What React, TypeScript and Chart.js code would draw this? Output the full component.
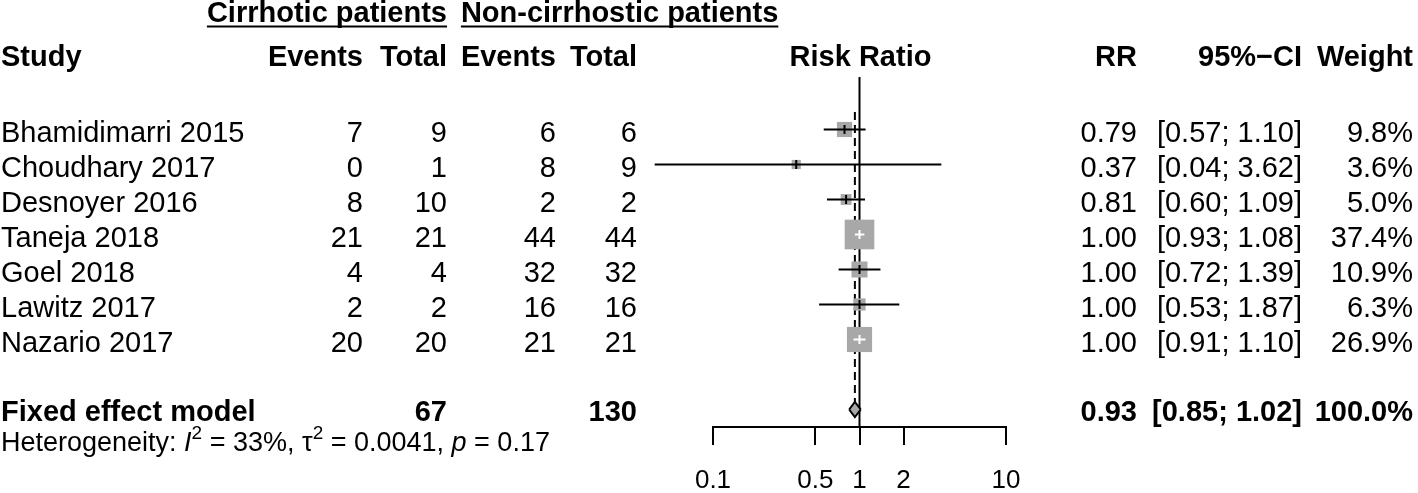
import React, { useEffect, useRef } from "react";
import { Chart, registerables } from "chart.js";

Chart.register(...registerables);

// ---------------- data ----------------
const studies = [
  "Bhamidimarri 2015",
  "Choudhary 2017",
  "Desnoyer 2016",
  "Taneja 2018",
  "Goel 2018",
  "Lawitz 2017",
  "Nazario 2017",
];
const eventsCirrhotic = [7, 0, 8, 21, 4, 2, 20];
const totalCirrhotic = [9, 1, 10, 21, 4, 2, 20];
const eventsNonCirrhotic = [6, 8, 2, 44, 32, 16, 21];
const totalNonCirrhotic = [6, 9, 2, 44, 32, 16, 21];
const riskRatio = [0.79, 0.37, 0.81, 1.0, 1.0, 1.0, 1.0];
const ciLow = [0.57, 0.04, 0.6, 0.93, 0.72, 0.53, 0.91];
const ciHigh = [1.1, 3.62, 1.09, 1.08, 1.39, 1.87, 1.1];
const weights = [9.8, 3.6, 5.0, 37.4, 10.9, 6.3, 26.9];

const fixedLabel = "Fixed effect model";
const fixedRR = 0.93;
const fixedLow = 0.85;
const fixedHigh = 1.02;
const fixedWeight = 100.0;

const hetI2 = "33%";
const hetTau2 = "0.0041";
const hetP = "0.17";

const tickValues = [0.1, 0.5, 1, 2, 10];
const tickLabels = ["0.1", "0.5", "1", "2", "10"];

// ---------------- style constants ----------------
const FONT = '"Liberation Sans", Arial, Helvetica, sans-serif';
const GRAY = "#a8a8a8";
const BOX_SCALE = 4.85;
const DIAMOND_H = 0.215;
const Y_MIN = -1.5;
const Y_MAX = 8.5;
const FIXED_ROW = studies.length + 1;

const COL = {
  study: 1,
  ev1: 363,
  tot1: 447,
  ev2: 556,
  tot2: 637,
  rr: 1137,
  ci: 1302,
  wt: 1413,
};

const boxSide = (w: number) => BOX_SCALE * Math.sqrt(w);
const f2 = (v: number) => v.toFixed(2);
const fCI = (lo: number, hi: number) => `[${f2(lo)}; ${f2(hi)}]`;
const fW = (w: number) => `${w.toFixed(1)}%`;
const sum = (a: number[]) => a.reduce((s, v) => s + v, 0);

function ciInside(chart: any, i: number) {
  const xs = chart.scales.x;
  const c = xs.getPixelForValue(riskRatio[i]);
  const half = boxSide(weights[i]) / 2;
  return (
    xs.getPixelForValue(ciLow[i]) >= c - half &&
    xs.getPixelForValue(ciHigh[i]) <= c + half
  );
}

const tablePlugin = {
  id: "forestTable",
  afterDraw(chart: any) {
    const ctx = chart.ctx as CanvasRenderingContext2D;
    const ys = chart.scales.y;
    const xs = chart.scales.x;
    ctx.save();
    ctx.fillStyle = "#000";
    ctx.textBaseline = "alphabetic";
    const put = (
      text: string,
      x: number,
      y: number,
      align: CanvasTextAlign,
      weight = "normal",
      size = 29,
      style = "normal"
    ) => {
      ctx.font = `${style} ${weight} ${size}px ${FONT}`;
      ctx.textAlign = align;
      ctx.fillText(text, x, y);
      return ctx.measureText(text).width;
    };

    // group titles
    const titleY = 21.5;
    let w = put("Cirrhotic patients", COL.tot1, titleY, "right", "bold");
    ctx.fillRect(COL.tot1 - w, titleY + 4, w, 2);
    ctx.font = `normal bold 29px ${FONT}`;
    const ev2Left = COL.ev2 - ctx.measureText("Events").width;
    w = put("Non-cirrhostic patients", ev2Left, titleY, "left", "bold");
    ctx.fillRect(ev2Left, titleY + 4, w, 2);

    // header
    const hY = 66;
    put("Study", COL.study, hY, "left", "bold");
    put("Events", COL.ev1, hY, "right", "bold");
    put("Total", COL.tot1, hY, "right", "bold");
    put("Events", COL.ev2, hY, "right", "bold");
    put("Total", COL.tot2, hY, "right", "bold");
    put("Risk Ratio", xs.getPixelForValue(1) + 1, hY, "center", "bold");
    put("RR", COL.rr, hY, "right", "bold");
    put("95%\u2212CI", COL.ci, hY, "right", "bold");
    put("Weight", COL.wt, hY, "right", "bold");

    // study rows
    studies.forEach((name, i) => {
      const y = ys.getPixelForValue(i) + 12;
      put(name, COL.study, y, "left");
      put(String(eventsCirrhotic[i]), COL.ev1, y, "right");
      put(String(totalCirrhotic[i]), COL.tot1, y, "right");
      put(String(eventsNonCirrhotic[i]), COL.ev2, y, "right");
      put(String(totalNonCirrhotic[i]), COL.tot2, y, "right");
      put(f2(riskRatio[i]), COL.rr, y, "right");
      put(fCI(ciLow[i], ciHigh[i]), COL.ci, y, "right");
      put(fW(weights[i]), COL.wt, y, "right");
    });

    // fixed effect row
    const fy = ys.getPixelForValue(FIXED_ROW) + 11;
    put(fixedLabel, COL.study, fy, "left", "bold");
    put(String(sum(totalCirrhotic)), COL.tot1, fy, "right", "bold");
    put(String(sum(totalNonCirrhotic)), COL.tot2, fy, "right", "bold");
    put(f2(fixedRR), COL.rr, fy, "right", "bold");
    put(fCI(fixedLow, fixedHigh), COL.ci, fy, "right", "bold");
    put(fW(fixedWeight), COL.wt, fy, "right", "bold");

    // heterogeneity
    const hb = 451;
    const segs: { t: string; style?: string; sup?: boolean }[] = [
      { t: "Heterogeneity: " },
      { t: "I", style: "italic" },
      { t: "2", sup: true },
      { t: ` = ${hetI2}, ` },
      { t: "\u03c4" },
      { t: "2", sup: true },
      { t: ` = ${hetTau2}, ` },
      { t: "p", style: "italic" },
      { t: ` = ${hetP}` },
    ];
    let x = 1;
    for (const s of segs) {
      const size = s.sup ? 19 : 27;
      x += put(s.t, x, s.sup ? hb - 12 : hb, "left", "normal", size, s.style || "normal");
    }
    ctx.restore();
  },
};

function buildConfig(): any {
  const ciData: any[] = [];
  studies.forEach((_, i) => {
    ciData.push({ x: ciLow[i], y: i }, { x: ciHigh[i], y: i }, { x: null, y: null });
  });
  const pointData = studies.map((_, i) => ({ x: riskRatio[i], y: i }));

  const lineBase = {
    type: "line",
    showLine: true,
    pointRadius: 0,
    pointHoverRadius: 0,
    tension: 0,
    clip: false,
    fill: false,
  };

  return {
    type: "scatter",
    data: {
      datasets: [
        {
          ...lineBase,
          label: "no effect",
          data: [
            { x: 1, y: Y_MIN },
            { x: 1, y: Y_MAX },
          ],
          borderColor: "#000",
          borderWidth: 2,
          order: 10,
        },
        {
          ...lineBase,
          label: "fixed effect",
          data: [
            { x: fixedRR, y: -0.5 },
            { x: fixedRR, y: FIXED_ROW - DIAMOND_H },
          ],
          borderColor: "#000",
          borderWidth: 2,
          borderDash: [8, 5],
          order: 9,
        },
        {
          label: "weights",
          data: pointData,
          showLine: false,
          clip: false,
          pointStyle: "rect",
          pointRadius: (c: any) => boxSide(weights[c.dataIndex]) / Math.SQRT2,
          pointHoverRadius: (c: any) => boxSide(weights[c.dataIndex]) / Math.SQRT2,
          pointBackgroundColor: GRAY,
          pointBorderWidth: 0,
          order: 8,
        },
        {
          ...lineBase,
          label: "diamond top",
          data: [
            { x: fixedLow, y: FIXED_ROW },
            { x: fixedRR, y: FIXED_ROW - DIAMOND_H },
            { x: fixedHigh, y: FIXED_ROW },
          ],
          borderColor: "#000",
          borderWidth: 2,
          borderJoinStyle: "miter",
          backgroundColor: GRAY,
          fill: "+1",
          order: 7,
        },
        {
          ...lineBase,
          label: "diamond bottom",
          data: [
            { x: fixedLow, y: FIXED_ROW },
            { x: fixedRR, y: FIXED_ROW + DIAMOND_H },
            { x: fixedHigh, y: FIXED_ROW },
          ],
          borderColor: "#000",
          borderWidth: 2,
          borderJoinStyle: "miter",
          order: 6,
        },
        {
          ...lineBase,
          label: "CI",
          data: ciData,
          spanGaps: false,
          borderColor: "#000",
          borderWidth: 2,
          segment: {
            borderColor: (s: any) =>
              ciInside(s.chart, Math.floor(s.p0DataIndex / 3)) ? "#fff" : "#000",
          },
          order: 5,
        },
        {
          label: "estimate",
          data: pointData,
          showLine: false,
          clip: false,
          pointStyle: "line",
          pointRotation: 90,
          pointRadius: 4.5,
          pointHoverRadius: 4.5,
          pointBorderWidth: 2,
          pointBorderColor: (c: any) => (ciInside(c.chart, c.dataIndex) ? "#fff" : "#000"),
          order: 4,
        },
      ],
    },
    options: {
      responsive: false,
      maintainAspectRatio: false,
      animation: false,
      devicePixelRatio: 1,
      events: [],
      layout: { padding: { left: 713, right: 412, top: 77, bottom: 0 } },
      plugins: { legend: { display: false }, tooltip: { enabled: false } },
      scales: {
        x: {
          type: "logarithmic",
          position: "bottom",
          min: 0.1,
          max: 10,
          afterBuildTicks: (scale: any) => {
            scale.ticks = tickValues.map((v) => ({ value: v }));
          },
          afterFit: (scale: any) => {
            scale.height = 66;
          },
          ticks: {
            autoSkip: false,
            maxRotation: 0,
            minRotation: 0,
            padding: 20,
            color: "#000",
            font: { family: FONT, size: 26 },
            callback: (_v: any, i: number) => tickLabels[i],
          },
          grid: {
            display: true,
            drawOnChartArea: false,
            drawTicks: true,
            tickLength: 18,
            color: "#000",
            lineWidth: 2,
          },
          border: { display: true, color: "#000", width: 2 },
        },
        y: {
          type: "linear",
          min: Y_MIN,
          max: Y_MAX,
          reverse: true,
          display: false,
        },
      },
    },
    plugins: [tablePlugin],
  };
}

export default function App() {
  const ref = useRef<HTMLCanvasElement>(null);
  useEffect(() => {
    if (!ref.current) return;
    const chart = new Chart(ref.current, buildConfig());
    return () => chart.destroy();
  }, []);
  return (
    <div
      style={{
        position: "absolute",
        left: 0,
        top: 0,
        width: 1418,
        height: 493,
        background: "#fff",
      }}
    >
      <canvas
        ref={ref}
        width={1418}
        height={493}
        style={{ display: "block", width: 1418, height: 493 }}
      />
    </div>
  );
}
